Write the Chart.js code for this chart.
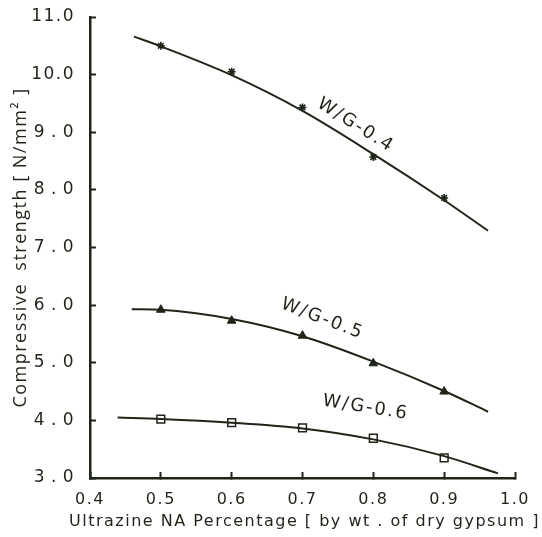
<!DOCTYPE html>
<html>
<head>
<meta charset="utf-8">
<script src="https://cdn.jsdelivr.net/npm/chart.js@4.4.1/dist/chart.umd.min.js"></script>
<style>
  html, body { margin: 0; padding: 0; background: #ffffff; }
  #wrap { width: 542px; height: 537px; position: relative; }
</style>
</head>
<body>
<div id="wrap"><canvas id="chart"></canvas></div>
<script>
// Measured compressive strength at each Ultrazine NA dosage
const dosage = [0.5, 0.6, 0.7, 0.8, 0.9];
const strengthWG04 = [10.50, 10.05, 9.43, 8.57, 7.86];
const strengthWG05 = [5.92, 5.73, 5.47, 4.99, 4.50];
const strengthWG06 = [4.02, 3.96, 3.87, 3.69, 3.35];

// Smoothed trend curves drawn through each series
const trendWG04X = [0.462, 0.5, 0.6, 0.7, 0.8, 0.9, 0.962];
const trendWG04Y = [10.66, 10.49, 9.99, 9.37, 8.62, 7.82, 7.29];
const trendWG05X = [0.459, 0.5, 0.6, 0.7, 0.8, 0.9, 0.962];
const trendWG05Y = [5.93, 5.92, 5.76, 5.46, 5.02, 4.51, 4.15];
const trendWG06X = [0.439, 0.5, 0.6, 0.7, 0.8, 0.9, 0.976];
const trendWG06Y = [4.05, 4.025, 3.96, 3.86, 3.67, 3.38, 3.08];

// Axis ticks and labels
const xTicks = [0.4, 0.5, 0.6, 0.7, 0.8, 0.9, 1.0];
const xTickLabels = ['0.4', '0.5', '0.6', '0.7', '0.8', '0.9', '1.0'];
const yTicks = [3, 4, 5, 6, 7, 8, 9, 10, 11];
const yTickLabels = ['3\u2009.\u20090', '4\u2009.\u20090', '5\u2009.\u20090', '6\u2009.\u20090',
  '7\u2009.\u20090', '8\u2009.\u20090', '9\u2009.\u20090', '10.0', '11.0'];
const seriesNames = ['W/G-0.4', 'W/G-0.5', 'W/G-0.6'];
const xAxisTitle = 'Ultrazine NA Percentage [ by wt . of dry gypsum ]';
const yAxisTitle = 'Compressive  strength [ N/mm² ]';

const INK = '#1f2519';

const pairs = (xs, ys) => xs.map((x, i) => ({ x, y: ys[i] }));

const trendStyle = {
  type: 'line',
  showLine: true,
  borderColor: INK,
  borderWidth: 2,
  pointRadius: 0,
  pointHoverRadius: 0,
  cubicInterpolationMode: 'monotone',
  fill: false
};
const markerStyle = {
  type: 'scatter',
  showLine: false,
  borderColor: INK,
  pointBorderColor: INK
};

// Slightly widened lettering for all axis text
const letterSpacing = {
  id: 'letterSpacing',
  beforeDraw(chart, args, opts) {
    if ('letterSpacing' in chart.ctx) chart.ctx.letterSpacing = opts.spacing;
  }
};

// Horizontal axis title, allowed to run wider than the plot area
const xTitle = {
  id: 'xTitle',
  afterDraw(chart, args, opts) {
    const { ctx, scales: { x } } = chart;
    ctx.save();
    ctx.font = opts.font;
    ctx.fillStyle = opts.color;
    if ('letterSpacing' in ctx) ctx.letterSpacing = opts.spacing;
    ctx.textAlign = 'center';
    ctx.textBaseline = 'middle';
    ctx.fillText(opts.text, (x.left + x.right) / 2 + 2, x.bottom - opts.offset);
    ctx.restore();
  }
};

// Rotated curve captions placed in data space
const curveCaptions = {
  id: 'curveCaptions',
  afterDatasetsDraw(chart, args, opts) {
    const { ctx, scales: { x, y } } = chart;
    opts.items.forEach(item => {
      ctx.save();
      ctx.translate(x.getPixelForValue(item.x), y.getPixelForValue(item.y));
      ctx.rotate(item.angle * Math.PI / 180);
      ctx.font = opts.font;
      ctx.fillStyle = opts.color;
      if ('letterSpacing' in ctx) ctx.letterSpacing = opts.spacing;
      ctx.textAlign = 'center';
      ctx.textBaseline = 'middle';
      ctx.fillText(item.text, 0, 0);
      ctx.restore();
    });
  }
};

new Chart(document.getElementById('chart'), {
  data: {
    datasets: [
      { ...trendStyle, label: seriesNames[0] + ' trend', data: pairs(trendWG04X, trendWG04Y) },
      { ...trendStyle, label: seriesNames[1] + ' trend', data: pairs(trendWG05X, trendWG05Y) },
      { ...trendStyle, label: seriesNames[2] + ' trend', data: pairs(trendWG06X, trendWG06Y) },
      { ...markerStyle, label: seriesNames[0], data: pairs(dosage, strengthWG04),
        pointStyle: 'star', pointRadius: 4, pointBorderWidth: 1.6, pointBackgroundColor: INK },
      { ...markerStyle, label: seriesNames[1], data: pairs(dosage, strengthWG05),
        pointStyle: 'triangle', pointRadius: 5, pointBorderWidth: 1, pointBackgroundColor: INK },
      { ...markerStyle, label: seriesNames[2], data: pairs(dosage, strengthWG06),
        pointStyle: 'rect', pointRadius: 5.5, pointBorderWidth: 1.5, pointBackgroundColor: '#ffffff' }
    ]
  },
  options: {
    responsive: true,
    maintainAspectRatio: false,
    animation: false,
    events: [],
    layout: { padding: { top: 17, right: 27, bottom: 0, left: 0 } },
    plugins: {
      legend: { display: false },
      tooltip: { enabled: false },
      letterSpacing: { spacing: '1.5px' },
      xTitle: {
        text: xAxisTitle,
        font: '16px "DejaVu Sans"',
        color: INK,
        spacing: '1.5px',
        offset: 15
      },
      curveCaptions: {
        font: '18px "DejaVu Sans"',
        color: INK,
        spacing: '2px',
        items: [
          { text: seriesNames[0], x: 0.775, y: 9.12, angle: 32 },
          { text: seriesNames[1], x: 0.728, y: 5.76, angle: 21 },
          { text: seriesNames[2], x: 0.789, y: 4.22, angle: 9 }
        ]
      }
    },
    scales: {
      x: {
        type: 'linear',
        min: 0.4,
        max: 1.0,
        afterBuildTicks: s => { s.ticks = xTicks.map(v => ({ value: v })); },
        afterFit: s => { s.height = 59; s.paddingLeft = 0; s.paddingRight = 0; },
        border: { display: true, color: INK, width: 2.5 },
        grid: { drawOnChartArea: false, drawTicks: true, tickLength: -6, tickWidth: 2, tickColor: INK },
        ticks: {
          color: INK,
          padding: 18,
          maxRotation: 0,
          autoSkip: false,
          font: { family: '"DejaVu Sans"', size: 16 },
          callback: (v, i) => xTickLabels[i]
        },
        title: { display: false }
      },
      y: {
        type: 'linear',
        min: 3,
        max: 11,
        afterBuildTicks: s => { s.ticks = yTicks.map(v => ({ value: v })); },
        afterFit: s => { s.width = 90; s.paddingTop = 0; s.paddingBottom = 0; },
        border: { display: true, color: INK, width: 2.5 },
        grid: { drawOnChartArea: false, drawTicks: true, tickLength: -6, tickWidth: 2, tickColor: INK },
        ticks: {
          color: INK,
          padding: 21,
          autoSkip: false,
          font: { family: '"DejaVu Sans"', size: 17 },
          callback: (v, i) => yTickLabels[i]
        },
        title: {
          display: true,
          text: yAxisTitle,
          color: INK,
          font: { family: '"Open Sans"', size: 18 },
          padding: { top: 10, bottom: 0 }
        }
      }
    }
  },
  plugins: [letterSpacing, xTitle, curveCaptions]
});
</script>
</body>
</html>
